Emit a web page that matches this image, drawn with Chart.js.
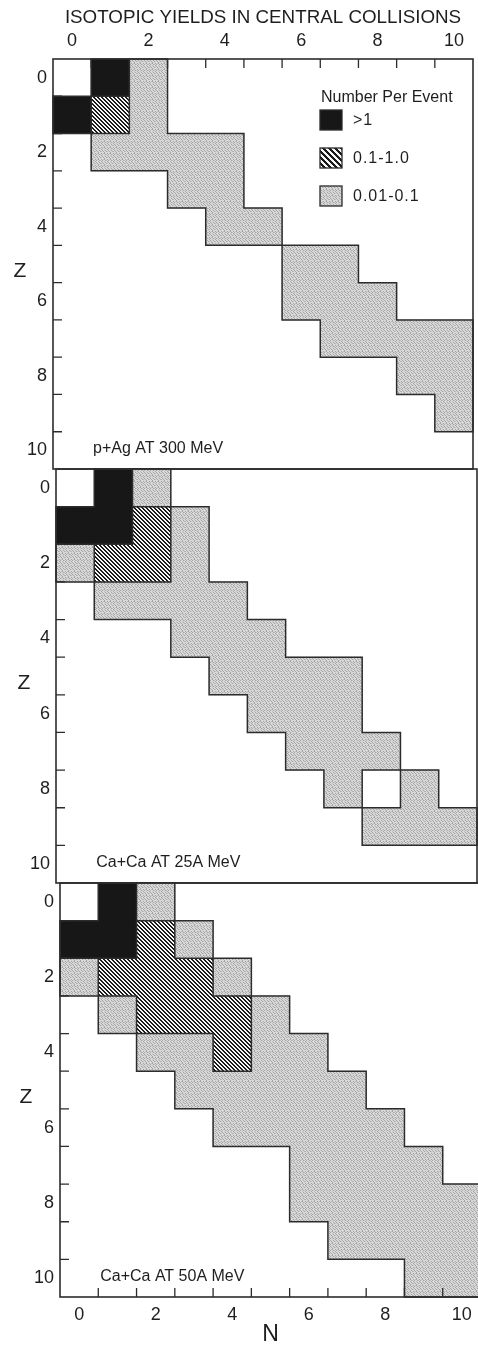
<!DOCTYPE html>
<html>
<head>
<meta charset="utf-8">
<script src="https://cdn.jsdelivr.net/npm/chart.js@4/dist/chart.umd.min.js"></script>
<style>
  html, body { margin: 0; padding: 0; background: #ffffff; overflow: hidden; width: 478px; height: 1345px; }
  .panel { position: absolute; left: 0; }
  canvas { display: block; }
</style>
</head>
<body>
<div class="panel" style="top:0px"><canvas id="c1" width="476" height="472"></canvas></div>
<div class="panel" style="top:466px"><canvas id="c2" width="480" height="420"></canvas></div>
<div class="panel" style="top:880px"><canvas id="c3" width="484" height="465"></canvas></div>
<script>
// ---------------- DATA ----------------
const N_VALUES = [0, 1, 2, 3, 4, 5, 6, 7, 8, 9, 10];      // neutron number N (columns)
const Z_VALUES = [0, 1, 2, 3, 4, 5, 6, 7, 8, 9, 10];      // proton number Z (rows)
const TICK_MARKS = [0.5, 1.5, 2.5, 3.5, 4.5, 5.5, 6.5, 7.5, 8.5, 9.5];
const CLASS_LABELS = ['>1', '0.1-1.0', '0.01-0.1'];
const LEGEND_TITLE = 'Number Per Event';
const MAIN_TITLE = 'ISOTOPIC YIELDS IN CENTRAL COLLISIONS';
const X_TITLE = 'N';
const Y_TITLE = 'Z';
const PANEL_LABELS = ['p+Ag AT 300 MeV', 'Ca+Ca AT 25A MeV', 'Ca+Ca AT 50A MeV'];

// cells as [N, Z]
// p+Ag at 300 MeV
const pAgHigh = [[1, 0], [0, 1]];
const pAgMid  = [[1, 1]];
const pAgLow  = [[2, 0], [2, 1], [1, 2], [2, 2], [3, 2], [4, 2], [3, 3], [4, 3], [4, 4], [5, 4],
                 [6, 5], [7, 5], [6, 6], [7, 6], [8, 6], [7, 7], [8, 7], [9, 7], [10, 7],
                 [9, 8], [10, 8], [10, 9]];
// Ca+Ca at 25A MeV
const ca25High  = [[1, 0], [0, 1], [1, 1]];
const ca25Mid   = [[2, 1], [1, 2], [2, 2]];
const ca25Low   = [[2, 0], [3, 1], [0, 2], [3, 2], [1, 3], [2, 3], [3, 3], [4, 3],
                   [3, 4], [4, 4], [5, 4], [4, 5], [5, 5], [6, 5], [7, 5], [5, 6], [6, 6], [7, 6],
                   [6, 7], [7, 7], [8, 7], [7, 8], [9, 8], [8, 9], [9, 9], [10, 9]];
const ca25Empty = [[8, 8]];
// Ca+Ca at 50A MeV
const ca50High = [[1, 0], [0, 1], [1, 1]];
const ca50Mid  = [[2, 1], [1, 2], [2, 2], [3, 2], [2, 3], [3, 3], [4, 3], [4, 4]];
const ca50Low  = [[2, 0], [3, 1], [0, 2], [4, 2], [1, 3], [5, 3], [2, 4], [3, 4], [5, 4], [6, 4],
                  [3, 5], [4, 5], [5, 5], [6, 5], [7, 5], [4, 6], [5, 6], [6, 6], [7, 6], [8, 6],
                  [6, 7], [7, 7], [8, 7], [9, 7], [6, 8], [7, 8], [8, 8], [9, 8], [10, 8],
                  [7, 9], [8, 9], [9, 9], [10, 9], [9, 10], [10, 10]];

// ---------------- STYLES ----------------
const FONT = '"Liberation Sans", Arial, Helvetica, sans-serif';
const INK = '#1e1e1e';
const LINE = '#2c2c2c';

function makeHatch(period, bg, fg) {
  const t = document.createElement('canvas');
  t.width = period; t.height = period;
  const c = t.getContext('2d');
  c.fillStyle = bg; c.fillRect(0, 0, period, period);
  c.fillStyle = fg;
  for (let y = 0; y < period; y++) {
    for (let x = 0; x < period; x++) {
      if ((((x - y) % period) + period) % period < period / 2) c.fillRect(x, y, 1, 1);
    }
  }
  return c.createPattern(t, 'repeat');
}
function makeStipple() {
  const t = document.createElement('canvas');
  t.width = 6; t.height = 6;
  const c = t.getContext('2d');
  c.fillStyle = '#d8d8d8'; c.fillRect(0, 0, 6, 6);
  c.fillStyle = '#a6a6a6';
  [[0,0],[1,1],[3,0],[4,1],[2,3],[3,4],[5,3],[0,4],[5,5],[2,2]].forEach(p => c.fillRect(p[0], p[1], 1, 1));
  c.fillStyle = '#c2c2c2';
  [[1,3],[4,4],[2,5],[5,1]].forEach(p => c.fillRect(p[0], p[1], 1, 1));
  return c.createPattern(t, 'repeat');
}
const BLACK_FILL = '#171717';
const HATCH_FILL = makeHatch(4, '#f6f6f6', '#1a1a1a');
const HATCH_LEGEND = makeHatch(6, '#f6f6f6', '#1a1a1a');
const GREY_FILL = makeStipple();
const CLASS_FILLS = [BLACK_FILL, HATCH_FILL, GREY_FILL, '#ffffff'];

function cellsToData(cells) {
  return cells.map(c => ({ x: c[0], y: [c[1] - 0.5, c[1] + 0.5] }));
}
function dataset(cells, cls) {
  return {
    data: cellsToData(cells),
    cls: cls,
    backgroundColor: CLASS_FILLS[cls],
    borderWidth: 0,
    grouped: false,
    barPercentage: 1,
    categoryPercentage: 1
  };
}

// ---------------- DECORATION PLUGIN ----------------
const decor = {
  id: 'decor',
  afterDatasetsDraw(chart, args, opts) {
    const ctx = chart.ctx;
    const xs = chart.scales.x, ys = chart.scales.y;
    const area = chart.chartArea;
    ctx.save();

    // outlines of regions (edges where the class changes)
    const map = new Map();
    chart.data.datasets.forEach(ds => ds.data.forEach(p => map.set(p.x + ',' + (p.y[0] + 0.5), ds.cls)));
    const edges = new Set();
    map.forEach((cls, key) => {
      const [n, z] = key.split(',').map(Number);
      if (map.get(n + ',' + (z - 1)) !== cls) edges.add('h|' + n + '|' + (z - 0.5));
      if (map.get(n + ',' + (z + 1)) !== cls) edges.add('h|' + n + '|' + (z + 0.5));
      if (map.get((n - 1) + ',' + z) !== cls) edges.add('v|' + (n - 0.5) + '|' + z);
      if (map.get((n + 1) + ',' + z) !== cls) edges.add('v|' + (n + 0.5) + '|' + z);
    });
    ctx.strokeStyle = LINE;
    ctx.lineWidth = 1.5;
    ctx.lineCap = 'square';
    ctx.beginPath();
    edges.forEach(e => {
      const [t, a, b] = e.split('|');
      const A = Number(a), B = Number(b);
      if (t === 'h') {
        const y = ys.getPixelForValue(B);
        ctx.moveTo(xs.getPixelForValue(A - 0.5), y);
        ctx.lineTo(xs.getPixelForValue(A + 0.5), y);
      } else {
        const x = xs.getPixelForValue(A);
        ctx.moveTo(x, ys.getPixelForValue(B - 0.5));
        ctx.lineTo(x, ys.getPixelForValue(B + 0.5));
      }
    });
    ctx.stroke();

    // inward tick marks
    const TL = 9;
    ctx.lineWidth = 1.3;
    ctx.lineCap = 'butt';
    ctx.beginPath();
    TICK_MARKS.forEach(v => {
      const y = ys.getPixelForValue(v);
      ctx.moveTo(area.left, y); ctx.lineTo(area.left + TL, y);
      const x = xs.getPixelForValue(v);
      if (opts.topTicks) { ctx.moveTo(x, area.top); ctx.lineTo(x, area.top + TL); }
      if (opts.bottomTicks) { ctx.moveTo(x, area.bottom); ctx.lineTo(x, area.bottom - TL); }
    });
    ctx.stroke();

    // frame
    ctx.lineWidth = 1.6;
    ctx.strokeStyle = LINE;
    ctx.strokeRect(area.left, area.top, area.right - area.left, area.bottom - area.top);

    // Z title (upright)
    ctx.fillStyle = INK;
    ctx.font = '21px ' + FONT;
    ctx.textAlign = 'center';
    ctx.textBaseline = 'middle';
    ctx.fillText(Y_TITLE, opts.zTitleX, ys.getPixelForValue(5.2));

    // panel label
    ctx.font = '16px ' + FONT;
    ctx.textAlign = 'left';
    ctx.textBaseline = 'middle';
    ctx.fillText(opts.label, xs.getPixelForValue(0.55), ys.getPixelForValue(9.95));

    // main title
    if (opts.mainTitle) {
      ctx.font = '18.8px ' + FONT;
      ctx.textAlign = 'center';
      ctx.textBaseline = 'alphabetic';
      ctx.fillText(MAIN_TITLE, (area.left + area.right) / 2, 23);
    }
    // N title
    if (opts.nTitle) {
      ctx.font = '23px ' + FONT;
      ctx.textAlign = 'center';
      ctx.textBaseline = 'alphabetic';
      ctx.fillText(X_TITLE, xs.getPixelForValue(5), area.bottom + 44);
    }
    // legend
    if (opts.legend) {
      const bx = area.right - 153;
      ctx.font = '16px ' + FONT;
      ctx.textAlign = 'left';
      ctx.textBaseline = 'middle';
      ctx.fillText(LEGEND_TITLE, bx + 1, area.top + 39);
      const tops = [51, 89, 127];
      const fills = [BLACK_FILL, HATCH_LEGEND, GREY_FILL];
      CLASS_LABELS.forEach((lab, i) => {
        const ty = area.top + tops[i];
        ctx.fillStyle = fills[i];
        ctx.fillRect(bx, ty, 22, 20);
        ctx.lineWidth = 1.3;
        ctx.strokeStyle = LINE;
        ctx.strokeRect(bx, ty, 22, 20);
        ctx.fillStyle = INK;
        ctx.letterSpacing = '1px';
        ctx.fillText(lab, bx + 33, ty + 11);
        ctx.letterSpacing = '0px';
      });
    }
    ctx.restore();
  }
};

function scaleX(position, display, height) {
  return {
    type: 'linear',
    position: position,
    display: display,
    min: -0.5, max: 10.5,
    offset: false,
    afterBuildTicks: s => { s.ticks = N_VALUES.map(v => ({ value: v })); },
    afterFit: s => { s.height = height; s.paddingLeft = 0; s.paddingRight = 0; },
    grid: { display: false, drawTicks: false },
    border: { display: false },
    ticks: {
      autoSkip: false, maxRotation: 0, padding: 7,
      color: INK, font: { family: FONT, size: 18 },
      callback: v => (v % 2 === 0 ? String(v) : '')
    }
  };
}
function scaleY(width) {
  return {
    type: 'linear',
    reverse: true,
    min: -0.5, max: 10.5,
    afterBuildTicks: s => { s.ticks = Z_VALUES.map(v => ({ value: v })); },
    afterFit: s => { s.width = width; s.paddingTop = 0; s.paddingBottom = 0; },
    grid: { display: false, drawTicks: false },
    border: { display: false },
    ticks: {
      autoSkip: false, padding: 6,
      color: INK, font: { family: FONT, size: 18 },
      callback: v => (v % 2 === 0 ? String(v) : '')
    }
  };
}

function makeChart(id, datasets, xScale, yScale, padding, decorOpts) {
  return new Chart(document.getElementById(id), {
    type: 'bar',
    data: { datasets: datasets },
    options: {
      responsive: false,
      animation: false,
      layout: { padding: padding },
      scales: { x: xScale, y: yScale },
      plugins: { legend: { display: false }, tooltip: { enabled: false }, decor: decorOpts }
    },
    plugins: [decor]
  });
}

makeChart('c1',
  [dataset(pAgHigh, 0), dataset(pAgMid, 1), dataset(pAgLow, 2)],
  scaleX('top', true, 59), scaleY(53),
  { top: 0, right: 3, bottom: 3, left: 0 },
  { topTicks: true, bottomTicks: false, legend: true, mainTitle: true, nTitle: false, label: PANEL_LABELS[0], zTitleX: 20 });

makeChart('c2',
  [dataset(ca25High, 0), dataset(ca25Mid, 1), dataset(ca25Low, 2), dataset(ca25Empty, 3)],
  scaleX('bottom', false, 0), scaleY(56),
  { top: 3, right: 3, bottom: 3, left: 0 },
  { topTicks: false, bottomTicks: false, legend: false, mainTitle: false, nTitle: false, label: PANEL_LABELS[1], zTitleX: 24 });

makeChart('c3',
  [dataset(ca50High, 0), dataset(ca50Mid, 1), dataset(ca50Low, 2)],
  scaleX('bottom', true, 48), scaleY(60),
  { top: 3, right: 3, bottom: 0, left: 0 },
  { topTicks: false, bottomTicks: true, legend: false, mainTitle: false, nTitle: true, label: PANEL_LABELS[2], zTitleX: 26 });
</script>
</body>
</html>
